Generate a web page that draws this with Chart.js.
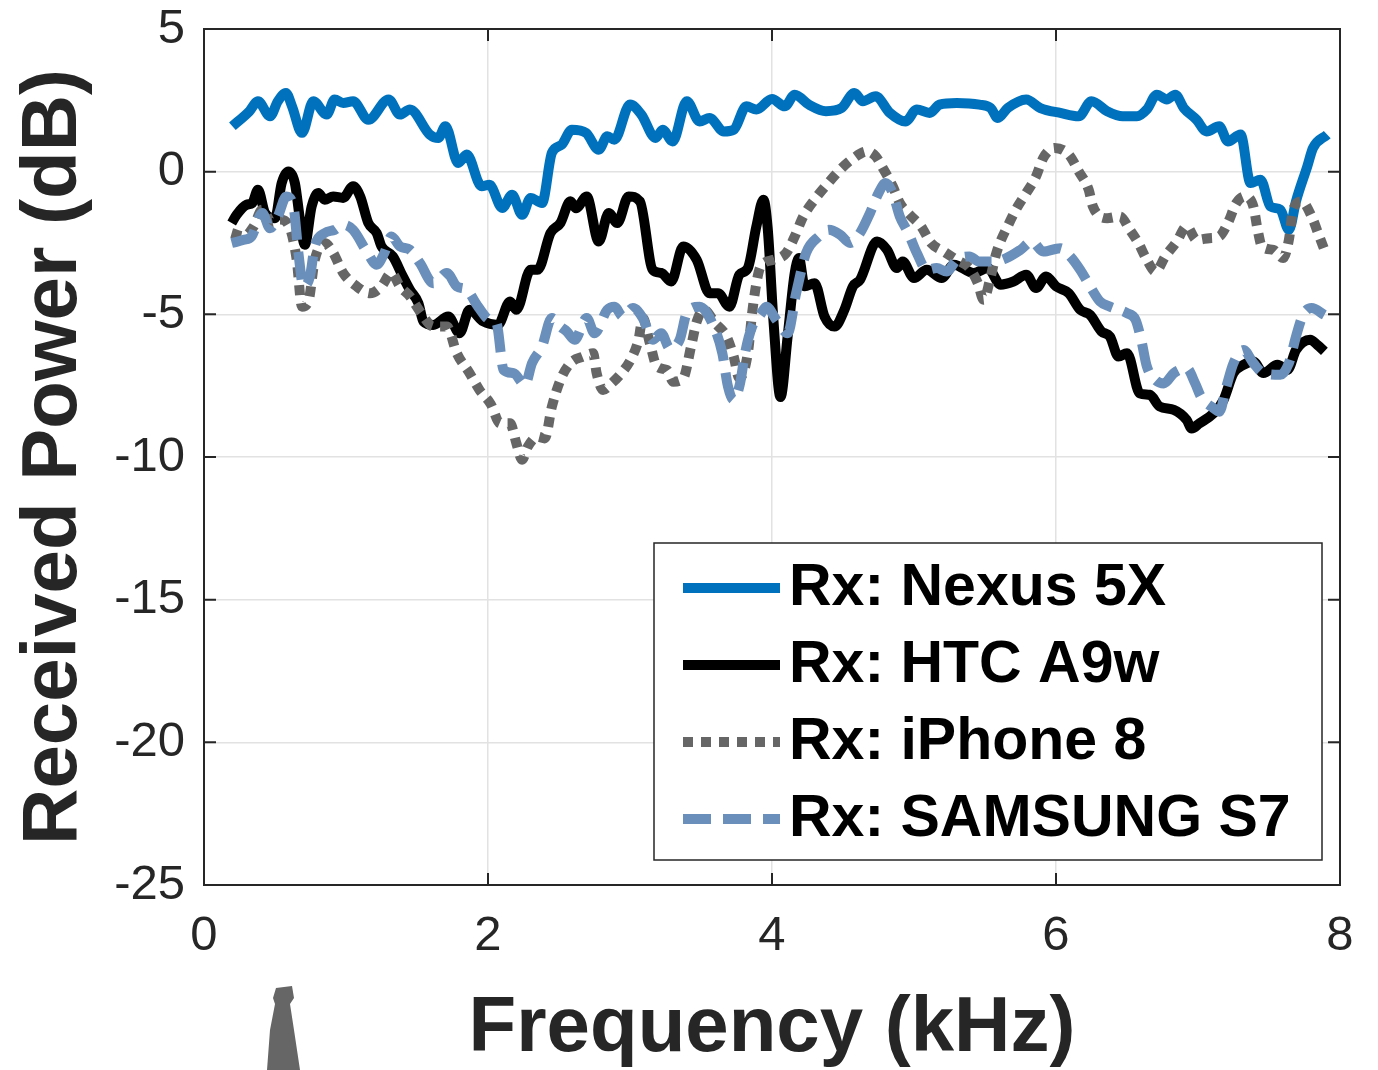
<!DOCTYPE html>
<html>
<head>
<meta charset="utf-8">
<script src="https://cdn.jsdelivr.net/npm/chart.js@4/dist/chart.umd.min.js"></script>
<style>
  html, body { margin: 0; padding: 0; background: #fff; }
  #c { display: block; }
</style>
</head>
<body>
<canvas id="c" width="1378" height="1070"></canvas>
<script>
// ---------------- DATA ----------------
const seriesLabels = ['Rx: Nexus 5X', 'Rx: HTC A9w', 'Rx: iPhone 8', 'Rx: SAMSUNG S7'];
const xTicks = [0, 2, 4, 6, 8];
const yTicks = [5, 0, -5, -10, -15, -20, -25];

const nexusFreq = [0.20,0.32,0.38,0.465,0.52,0.577,0.62,0.69,0.77,0.864,0.92,0.98,1.05,1.157,1.30,1.38,1.45,1.59,1.65,1.70,1.79,1.85,1.955,2.01,2.10,2.17,2.24,2.30,2.38,2.45,2.52,2.59,2.69,2.78,2.84,2.89,3.00,3.08,3.18,3.23,3.30,3.40,3.49,3.56,3.66,3.73,3.82,3.89,4.00,4.09,4.16,4.26,4.38,4.49,4.58,4.64,4.73,4.83,4.94,5.02,5.11,5.18,5.30,5.46,5.54,5.59,5.66,5.79,5.89,6.03,6.16,6.25,6.36,6.47,6.57,6.64,6.71,6.78,6.84,6.90,6.99,7.06,7.15,7.21,7.30,7.37,7.44,7.51,7.58,7.64,7.69,7.77,7.81,7.91];
const nexusDb = [1.59,2.12,2.47,1.94,2.47,2.76,2.29,1.36,2.47,2.00,2.53,2.41,2.47,1.82,2.53,2.00,2.18,1.30,1.18,1.59,0.30,0.60,-0.51,-0.46,-1.27,-0.81,-1.51,-0.92,-1.10,0.66,0.95,1.47,1.36,0.77,1.24,1.12,2.35,2.00,1.18,1.47,1.06,2.47,1.76,1.88,1.41,1.47,2.29,2.18,2.55,2.29,2.70,2.35,2.12,2.23,2.76,2.47,2.64,2.06,1.76,2.18,2.06,2.35,2.41,2.35,2.23,1.88,2.23,2.53,2.23,2.06,1.94,2.47,2.12,1.94,1.94,2.18,2.70,2.53,2.70,2.23,1.82,1.41,1.59,1.06,1.30,-0.40,-0.28,-1.22,-1.33,-2.04,-1.04,0.19,0.83,1.30];

const htcFreq = [0.195,0.23,0.30,0.34,0.38,0.43,0.50,0.547,0.594,0.64,0.676,0.71,0.758,0.805,0.85,0.91,0.98,1.05,1.10,1.157,1.216,1.25,1.33,1.40,1.45,1.51,1.545,1.615,1.72,1.80,1.87,1.967,2.07,2.155,2.20,2.30,2.35,2.44,2.51,2.58,2.62,2.695,2.78,2.85,2.91,2.99,3.07,3.16,3.22,3.29,3.375,3.47,3.56,3.62,3.70,3.77,3.83,3.89,3.94,3.97,4.01,4.06,4.11,4.16,4.19,4.23,4.30,4.37,4.44,4.51,4.57,4.62,4.74,4.81,4.88,4.92,5.00,5.09,5.195,5.28,5.42,5.52,5.61,5.70,5.79,5.86,5.93,6.00,6.09,6.17,6.24,6.32,6.38,6.44,6.50,6.59,6.66,6.73,6.83,6.92,6.955,7.01,7.11,7.18,7.25,7.32,7.39,7.46,7.56,7.63,7.69,7.79,7.84,7.89];
const htcDb = [-1.80,-1.51,-1.16,-1.10,-0.63,-1.45,-1.63,-0.40,0.01,-0.40,-1.68,-2.56,-1.22,-0.75,-0.98,-0.87,-0.92,-0.51,-0.87,-1.80,-2.15,-2.62,-2.97,-3.67,-4.14,-4.61,-5.25,-5.37,-5.08,-5.66,-4.84,-5.25,-5.37,-4.55,-4.84,-3.44,-3.44,-2.15,-1.80,-1.04,-1.28,-0.87,-2.45,-1.45,-1.80,-0.87,-1.04,-3.44,-3.55,-3.85,-2.62,-3.09,-4.26,-4.26,-4.73,-3.61,-3.38,-1.92,-0.98,-2.00,-5.20,-7.90,-5.78,-3.55,-3.03,-4.02,-3.91,-5.08,-5.43,-4.84,-4.02,-3.79,-2.45,-2.74,-3.38,-3.15,-3.73,-3.44,-3.73,-3.26,-3.55,-3.38,-3.96,-3.85,-3.61,-4.08,-3.67,-4.02,-4.26,-4.84,-5.02,-5.60,-5.78,-6.48,-6.36,-7.77,-7.82,-8.23,-8.35,-8.70,-9.00,-8.82,-8.47,-8.00,-7.06,-6.77,-6.65,-7.06,-6.77,-6.95,-6.25,-5.89,-6.07,-6.30];

const iphoneFreq = [0.195,0.28,0.35,0.41,0.48,0.535,0.605,0.653,0.69,0.735,0.78,0.85,0.91,0.98,1.075,1.17,1.25,1.32,1.38,1.45,1.53,1.615,1.71,1.78,1.87,1.94,2.02,2.085,2.155,2.20,2.24,2.28,2.35,2.40,2.45,2.51,2.58,2.67,2.74,2.765,2.81,2.87,2.94,3.01,3.06,3.09,3.14,3.19,3.26,3.305,3.375,3.43,3.47,3.52,3.60,3.68,3.73,3.77,3.83,3.86,3.89,3.92,4.01,4.10,4.16,4.22,4.30,4.385,4.48,4.56,4.67,4.73,4.78,4.85,4.90,4.97,5.05,5.12,5.21,5.30,5.39,5.45,5.49,5.535,5.58,5.67,5.73,5.79,5.86,5.91,5.99,6.09,6.16,6.23,6.26,6.36,6.45,6.52,6.58,6.64,6.70,6.77,6.85,6.92,6.99,7.08,7.15,7.21,7.27,7.33,7.39,7.42,7.45,7.53,7.60,7.64,7.67,7.73,7.80,7.85,7.89];
const iphoneDb = [-2.15,-2.27,-1.92,-1.33,-1.80,-1.68,-1.98,-3.09,-4.73,-4.55,-3.09,-2.50,-2.85,-3.55,-4.02,-4.26,-4.02,-3.55,-4.02,-4.37,-4.96,-5.43,-5.43,-6.36,-7.06,-7.65,-8.15,-8.82,-8.82,-9.52,-10.10,-9.64,-9.29,-9.35,-8.23,-7.30,-6.71,-6.48,-6.36,-7.06,-7.65,-7.42,-7.06,-6.54,-5.89,-5.13,-6.01,-6.83,-6.95,-7.36,-7.24,-6.13,-5.25,-4.84,-5.31,-5.78,-6.48,-7.24,-6.36,-4.96,-3.91,-3.32,-3.09,-2.85,-2.27,-1.57,-0.98,-0.46,0.07,0.42,0.71,0.54,0.13,-0.51,-1.10,-1.51,-1.92,-2.50,-2.80,-3.09,-3.38,-3.91,-4.49,-3.79,-2.85,-1.80,-1.22,-0.75,-0.16,0.48,0.83,0.60,0.01,-0.63,-1.22,-1.63,-1.57,-2.04,-2.50,-3.09,-3.50,-2.97,-2.45,-1.92,-2.39,-2.33,-2.27,-1.80,-1.10,-0.87,-1.22,-2.04,-2.62,-2.74,-3.03,-2.39,-1.33,-1.04,-1.57,-2.21,-2.74];

const samsungFreq = [0.195,0.28,0.335,0.41,0.465,0.52,0.58,0.63,0.665,0.70,0.746,0.78,0.85,0.92,0.98,1.05,1.146,1.216,1.27,1.32,1.38,1.45,1.52,1.615,1.71,1.78,1.85,1.93,2.01,2.06,2.11,2.18,2.26,2.31,2.38,2.45,2.51,2.555,2.61,2.695,2.75,2.84,2.89,2.95,3.02,3.09,3.16,3.22,3.28,3.35,3.40,3.49,3.59,3.65,3.69,3.73,3.775,3.81,3.86,3.92,3.96,4.03,4.11,4.17,4.24,4.33,4.40,4.48,4.55,4.62,4.69,4.75,4.80,4.85,4.90,4.96,5.02,5.09,5.16,5.23,5.30,5.39,5.46,5.56,5.65,5.75,5.83,5.91,6.03,6.10,6.17,6.24,6.31,6.38,6.50,6.56,6.60,6.64,6.70,6.76,6.83,6.92,6.98,7.02,7.11,7.15,7.20,7.25,7.32,7.39,7.46,7.58,7.64,7.69,7.74,7.80,7.89];
const samsungDb = [-2.50,-2.39,-2.27,-1.45,-1.98,-1.57,-0.87,-1.22,-2.85,-4.02,-3.67,-2.62,-2.15,-2.04,-1.86,-2.04,-2.80,-3.26,-2.85,-2.27,-2.62,-2.74,-3.20,-3.91,-3.55,-4.02,-4.14,-4.73,-5.19,-5.31,-6.95,-7.06,-7.47,-6.71,-6.13,-5.13,-5.43,-5.60,-5.89,-5.13,-5.66,-4.84,-4.73,-5.08,-4.78,-5.13,-5.89,-5.66,-6.19,-5.89,-4.96,-4.73,-5.43,-6.36,-7.53,-8.00,-7.42,-6.36,-5.43,-5.00,-4.73,-5.19,-5.66,-4.26,-2.85,-2.27,-2.04,-2.21,-2.50,-2.15,-1.45,-0.75,-0.40,-0.75,-1.57,-2.15,-2.85,-3.44,-3.38,-3.50,-3.09,-2.97,-3.15,-3.15,-3.03,-2.74,-2.45,-2.80,-2.68,-2.97,-3.44,-4.02,-4.55,-4.73,-4.96,-5.19,-5.89,-6.83,-7.30,-7.42,-7.06,-6.89,-7.42,-7.88,-8.29,-8.41,-7.53,-6.71,-6.25,-6.71,-7.06,-7.12,-6.71,-5.78,-5.02,-4.78,-5.02];

// ---------------- STYLE ----------------
const colors = ['#0072BD', '#000000', '#666666', '#6A8FBA'];
const dashes = [[], [], [10, 8], [28, 12]];
const LW = 10;
const FONT = '"Liberation Sans", Arial, Helvetica, sans-serif';
const TXT = '#262626';

const toPts = (fx, fy) => fx.map((f, i) => ({ x: f, y: fy[i] }));
const seriesData = [
  toPts(nexusFreq, nexusDb),
  toPts(htcFreq, htcDb),
  toPts(iphoneFreq, iphoneDb),
  toPts(samsungFreq, samsungDb)
];

const datasets = seriesData.map((d, i) => ({
  label: seriesLabels[i],
  data: d,
  borderColor: colors[i],
  backgroundColor: colors[i],
  borderWidth: LW,
  borderDash: dashes[i],
  borderCapStyle: 'butt',
  borderJoinStyle: 'round',
  pointRadius: 0,
  fill: false,
  cubicInterpolationMode: 'monotone',
  order: 4 - i
}));

// Box, inward ticks, legend
const framePlugin = {
  id: 'frame',
  afterDraw(chart) {
    const { ctx, chartArea: a, scales } = chart;
    ctx.save();
    ctx.strokeStyle = TXT;
    ctx.lineWidth = 2;
    ctx.strokeRect(a.left, a.top, a.right - a.left, a.bottom - a.top);
    const tl = 12;
    ctx.beginPath();
    scales.x.ticks.forEach(t => {
      const px = scales.x.getPixelForValue(t.value);
      ctx.moveTo(px, a.bottom); ctx.lineTo(px, a.bottom - tl);
      ctx.moveTo(px, a.top); ctx.lineTo(px, a.top + tl);
    });
    scales.y.ticks.forEach(t => {
      const py = scales.y.getPixelForValue(t.value);
      ctx.moveTo(a.left, py); ctx.lineTo(a.left + tl, py);
      ctx.moveTo(a.right, py); ctx.lineTo(a.right - tl, py);
    });
    ctx.stroke();

    // Legend
    const lx = 654, ly = 543, lw = 668, lh = 317;
    ctx.fillStyle = '#ffffff';
    ctx.fillRect(lx, ly, lw, lh);
    ctx.lineWidth = 1.5;
    ctx.strokeStyle = '#262626';
    ctx.strokeRect(lx, ly, lw, lh);
    const rows = [588, 665, 742, 819];
    chart.data.datasets.forEach((ds, i) => {
      const y = rows[i];
      ctx.beginPath();
      ctx.setLineDash(ds.borderDash);
      ctx.lineCap = 'butt';
      ctx.strokeStyle = ds.borderColor;
      ctx.lineWidth = LW;
      ctx.moveTo(683, y); ctx.lineTo(780, y);
      ctx.stroke();
      ctx.setLineDash([]);
      ctx.fillStyle = '#000';
      ctx.font = 'bold 59px ' + FONT;
      ctx.textBaseline = 'middle';
      ctx.textAlign = 'left';
      ctx.fillText(ds.label, 789, y + 1);
    });

    // small gray smudge under the axis (present in the source image)
    ctx.fillStyle = '#666666';
    ctx.beginPath();
    ctx.moveTo(276, 988); ctx.lineTo(292, 986); ctx.lineTo(294, 998);
    ctx.lineTo(290, 1004); ctx.lineTo(294, 1030); ctx.lineTo(300, 1070);
    ctx.lineTo(267, 1070); ctx.lineTo(270, 1030); ctx.lineTo(275, 1004);
    ctx.lineTo(273, 998);
    ctx.closePath();
    ctx.fill();
    ctx.restore();
  }
};

new Chart(document.getElementById('c'), {
  type: 'line',
  data: { datasets },
  options: {
    responsive: false,
    animation: false,
    devicePixelRatio: 1,
    layout: { padding: { left: 0, right: 38, top: 29, bottom: 0 } },
    plugins: { legend: { display: false }, tooltip: { enabled: false } },
    scales: {
      x: {
        type: 'linear',
        min: 0, max: 8,
        afterBuildTicks: s => { s.ticks = xTicks.map(v => ({ value: v })); },
        afterFit: s => { s.height = 185; s.paddingLeft = 0; s.paddingRight = 0; },
        grid: { color: '#e2e2e2', lineWidth: 1.5, drawTicks: false },
        border: { display: false },
        ticks: { font: { family: FONT, size: 49, lineHeight: 1 }, color: TXT, padding: 27, maxRotation: 0 },
        title: { display: true, text: 'Frequency (kHz)', color: TXT,
                 font: { family: FONT, size: 78, weight: 'bold', lineHeight: 1 },
                 padding: { top: 0, bottom: 2 } }
      },
      y: {
        min: -25, max: 5,
        afterBuildTicks: s => { s.ticks = yTicks.map(v => ({ value: v })); },
        afterFit: s => { s.width = 204; s.paddingTop = 0; s.paddingBottom = 0; },
        grid: { color: '#e2e2e2', lineWidth: 1.5, drawTicks: false },
        border: { display: false },
        ticks: { font: { family: FONT, size: 49, lineHeight: 1 }, color: TXT, padding: 19 },
        title: { display: true, text: 'Received Power (dB)', color: TXT,
                 font: { family: FONT, size: 78, weight: 'bold', lineHeight: 1 },
                 padding: { top: 15, bottom: 0 } }
      }
    }
  },
  plugins: [framePlugin]
});
</script>
</body>
</html>
